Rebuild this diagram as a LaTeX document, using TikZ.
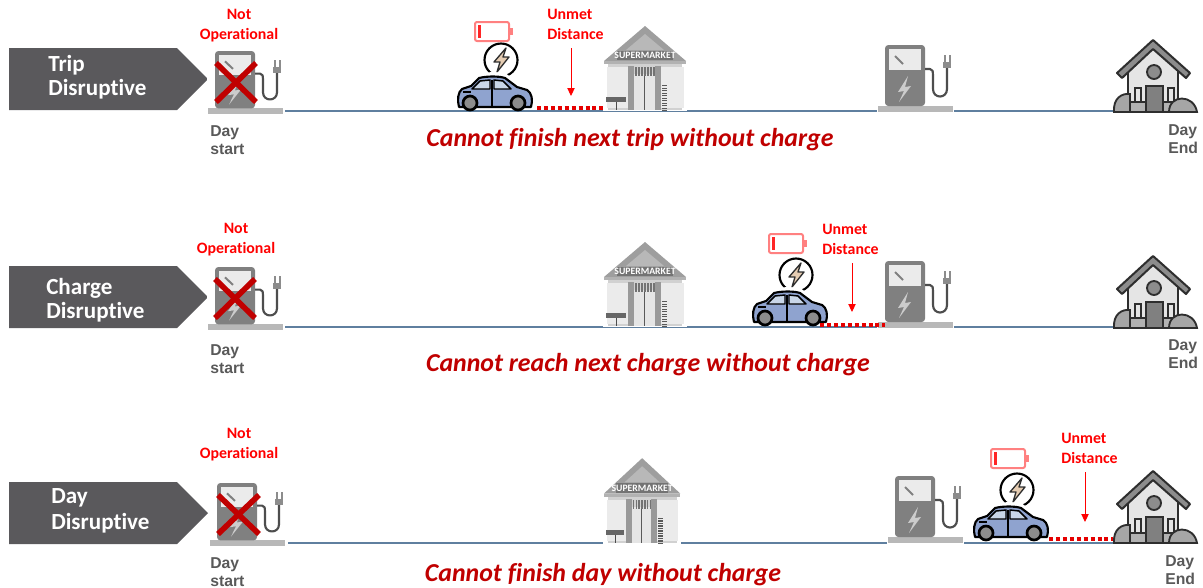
\documentclass[tikz,border=0pt]{standalone}
\usepackage{fontspec}
\setmainfont[Ligatures=NoCommon]{Carlito}
\newfontfamily\arialf{Liberation Sans}
\usetikzlibrary{arrows.meta}
\definecolor{banner}{HTML}{5A595C}
\definecolor{pumpgray}{HTML}{808080}
\definecolor{basegray}{HTML}{B8B8B8}
\definecolor{darkred}{HTML}{C00000}
\definecolor{timeline}{HTML}{5F7F9F}
\definecolor{carblue}{HTML}{8FA3CF}
\definecolor{glass}{HTML}{C9D6E8}
\definecolor{labelgray}{HTML}{595959}
\definecolor{dk}{HTML}{2E2E2E}
\tikzset{
  x=0.75pt,y=-0.75pt,
  bannerbox/.style={fill=banner,draw=none},
  bannertext/.style={text=white,font=\fontsize{17.3}{18.5}\selectfont\bfseries,anchor=west,inner sep=0},
  redlabel/.style={text=red,font=\fontsize{11.9}{15}\selectfont\bfseries,align=center,inner sep=0},
  unmetlabel/.style={text=red,font=\fontsize{11.9}{15}\selectfont\bfseries,align=left,inner sep=0,anchor=north west},
  daylabel/.style={text=labelgray,font=\arialf\fontsize{11.8}{13.5}\selectfont\bfseries,align=left,inner sep=0,anchor=north west},
  caption/.style={text=darkred,font=\fontsize{19.4}{20}\selectfont\bfseries\itshape,inner sep=0},
  tline/.style={draw=timeline,line width=0.8pt},
  unmetline/.style={draw=red!90!black,line width=3pt,dash pattern=on 3pt off 2.2pt},
  unmetarrow/.style={draw=red,line width=0.7pt,-{Triangle[length=6pt,width=5.5pt]}},
  crossline/.style={draw=darkred,line width=4.2pt},
  pump/.pic={
    \fill[white] (-1,1) rectangle (76,-70);
    \fill[basegray] (0,0) rectangle (75,-6);
    \fill[pumpgray,rounded corners=2.5pt] (7,-6) -- (7,-67) -- (47,-67) -- (47,-6) -- cycle;
    \fill[white!92!black] (11,-63) rectangle (43,-42);
    \draw[pumpgray,line width=1.5pt] (17,-56) -- (25,-48);
    \fill[white!80!black] (30,-36) -- (20,-20) -- (26,-21) -- (21,-10) -- (33,-26) -- (27,-25) -- cycle;
    \draw[dk!85!white,line width=1.6pt,line join=round] (47,-43) -- (52,-43) .. controls (55,-43) and (55,-40) .. (55,-37) -- (55,-23) .. controls (55,-13) and (69,-13) .. (69,-23) -- (69,-44);
    \fill[white!55!black] (65,-50) rectangle (73,-44);
    \fill[white!55!black] (65.5,-57) rectangle (67.5,-50);
    \fill[white!55!black] (70.5,-57) rectangle (72.5,-50);
  },
  store/.pic={
    \fill[white] (-1,1) rectangle (83,-85);
    \fill[white!82!black] (4,-49) rectangle (78,0);
    \fill[white!62!black] (0,-49) -- (41,-84) -- (82,-49) -- cycle;
    \fill[white!72!black] (41,-76) -- (22,-60) -- (60,-60) -- cycle;
    \fill[white!45!black] (13,-59) rectangle (69,-50);
    \node (sign) at (41,-54.5) [text=white,inner sep=0,font=\fontsize{7.3}{8}\selectfont\bfseries] {SUPERMARKET};
    \fill[white!70!black] (0,-49) rectangle (82,-46);
    \fill[white!92!black] (3,-43) rectangle (24,-2);
    \fill[white!92!black] (57,-43) rectangle (80,-2);
    \fill[white!60!black] (24,-44) rectangle (30,0);
    \fill[white!60!black] (51,-44) rectangle (57,0);
    \fill[white!90!black] (30,-36) rectangle (51,0);
    \draw[white!35!black,line width=0.4pt] (40.5,-36) -- (40.5,0);
    \foreach \bx in {31,34,...,49} {\fill[white!45!black] (\bx,-43) rectangle ++(1.7,9);}
    \fill[white!40!black] (2,-13) rectangle (22,-8);
    \draw[white!30!black,line width=0.5pt] (12,-8) -- (12,0);
    \foreach \by in {-25,-22.5,...,0} {\fill[white!35!black] (58,\by) rectangle ++(5,1.4);}
  },
  house/.pic={
    \fill[white] (-1,1) rectangle (84,-74);
    \fill[white!90!black,draw=dk,line width=1.3pt] (14,-43) -- (39,-66) -- (64,-43) -- (64,0) -- (14,0) -- cycle;
    \draw[dk,line width=1.5pt,fill=white!55!black,line join=round] (3,-39) -- (39,-72) -- (76,-39) -- (72,-34) -- (39,-63) -- (8,-34) -- cycle;
    \filldraw[fill=white!55!black,draw=dk,line width=1.4pt] (40,-40) circle (7);
    \filldraw[fill=white!50!black,draw=dk,line width=1.4pt] (32,0) rectangle (49,-26);
    \filldraw[fill=white!70!black,draw=dk,line width=1.4pt] (16,0) rectangle (32,-10);
    \filldraw[fill=white!70!black,draw=dk,line width=1.4pt] (49,0) rectangle (64,-10);
    \draw[dk,line width=1.3pt] (21,-10) -- (21,-24) -- (27,-24) -- (27,-10);
    \draw[dk,line width=1.3pt] (54,-10) -- (54,-24) -- (60,-24) -- (60,-10);
    \filldraw[fill=white!65!black,draw=dk,line width=1.4pt] (0,0) .. controls (-1,-14) and (8,-19) .. (16,-18) -- (16,0) -- cycle;
    \filldraw[fill=white!65!black,draw=dk,line width=1.4pt] (55,0) .. controls (55,-18) and (80,-18) .. (83,0) -- cycle;
  },
  ev/.pic={
    \draw[black,line width=1.6pt] (44,-50) circle (16.5);
    \path[fill=white!60!brown,draw=dk,line width=1pt,line join=round] (49,-62) -- (37,-48) -- (43,-48) -- (40,-38) -- (52,-53) -- (46,-53) -- cycle;
    \draw[white,line width=5pt,line join=round] (14,-25) -- (22,-33) .. controls (30,-35) and (42,-35) .. (48,-33) -- (60,-24);
    \path[fill=carblue,draw=black,line width=1.6pt,line join=round] (2,-3) .. controls (0,-10) and (1,-18) .. (5,-21) -- (14,-24) -- (22,-32) .. controls (30,-34) and (42,-34) .. (48,-32) -- (60,-23) -- (70,-20) .. controls (75,-17) and (76,-10) .. (74,-3) -- cycle;
    \path[fill=glass,draw=black,line width=1.1pt,line join=round] (15,-21) -- (23,-29) -- (33,-30) -- (33,-21) -- cycle;
    \path[fill=glass,draw=black,line width=1.1pt,line join=round] (37,-30) -- (46,-29) -- (54,-21) -- (37,-21) -- cycle;
    \draw[black,line width=1.2pt] (35,-30) -- (35,-3);
    \draw[black,line width=1pt] (6,-18) -- (14,-18);
    \filldraw[fill=white!55!black,draw=black,line width=2pt] (13,-7) circle (7);
    \filldraw[fill=white!55!black,draw=black,line width=2pt] (61,-7) circle (7);
  },
  emptybatt/.pic={
    \draw[red!50!white,line width=1.5pt,fill=white,rounded corners=1.5pt] (0,0) rectangle (34,19);
    \fill[red!50!white] (34,6) rectangle (38,13);
    \fill[red!85!white] (3,3) rectangle (6,16);
  }
}
\begin{document}
\begin{tikzpicture}
\useasboundingbox (0,0) rectangle (1203,587);
% ---------- Row 1
\coordinate (a1) at (285,111); \coordinate (b1) at (1116,111);
\draw[tline] (a1) -- (b1);
\fill[bannerbox] (9,48) -- (177,48) -- (208,79) -- (177,110) -- (9,110) -- cycle;
\node[bannertext] (t1a) at (48,65) {Trip};
\node[bannertext] (t1b) at (48,89) {Disruptive};
\node[redlabel] (n1) at (239,26) {Not\\Operational};
\pic[yscale=0.94] (p1) at (208,114) {pump};
\node[daylabel] (d1) at (210,125) {Day\\start};
\pic (s1) at (604,110) {store};
\pic (q1) at (878,112) {pump};
\pic (h1) at (1114,112) {house};
\pic (e1) at (457,110) {ev};
\pic (y1) at (475,22) {emptybatt};
\node[unmetlabel] (u1) at (547,9) {Unmet\\Distance};
\coordinate (ua1) at (571,48); \coordinate (ub1) at (571,96);
\draw[unmetarrow] (ua1) -- (ub1);
\coordinate (uc1) at (537,108); \coordinate (ud1) at (603,108);
\draw[unmetline] (uc1) -- (ud1);
\node[daylabel] (x1) at (1168,124) {Day\\End};
\node[caption] (c1) at (630,139.5) {Cannot finish next trip without charge};
\coordinate (k1a) at (216,63); \coordinate (k1b) at (256,102); \coordinate (k1c) at (256,63); \coordinate (k1d) at (216,102);
\draw[crossline] (k1a) -- (k1b); \draw[crossline] (k1c) -- (k1d);
% ---------- Row 2
\coordinate (a2) at (285,327); \coordinate (b2) at (1116,327);
\draw[tline] (a2) -- (b2);
\fill[bannerbox] (9,266) -- (177,266) -- (208,297) -- (177,328) -- (9,328) -- cycle;
\node[bannertext] (t2a) at (46,288) {Charge};
\node[bannertext] (t2b) at (46,312) {Disruptive};
\node[redlabel] (n2) at (236,240) {Not\\Operational};
\pic[yscale=0.94] (p2) at (208,330) {pump};
\node[daylabel] (d2) at (210,344) {Day\\start};
\pic (s2) at (604,326) {store};
\pic (q2) at (878,328) {pump};
\pic (h2) at (1114,328) {house};
\pic (e2) at (752,325) {ev};
\pic (y2) at (769,234) {emptybatt};
\node[unmetlabel] (u2) at (822,224) {Unmet\\Distance};
\coordinate (ua2) at (852,263); \coordinate (ub2) at (852,312);
\draw[unmetarrow] (ua2) -- (ub2);
\coordinate (uc2) at (820,325); \coordinate (ud2) at (885,325);
\draw[unmetline] (uc2) -- (ud2);
\node[daylabel] (x2) at (1168,339) {Day\\End};
\node[caption] (c2) at (648,364.5) {Cannot reach next charge without charge};
\coordinate (k2a) at (215,279); \coordinate (k2b) at (255,318); \coordinate (k2c) at (255,279); \coordinate (k2d) at (215,318);
\draw[crossline] (k2a) -- (k2b); \draw[crossline] (k2c) -- (k2d);
% ---------- Row 3
\coordinate (a3) at (288,543); \coordinate (b3) at (1116,543);
\draw[tline] (a3) -- (b3);
\fill[bannerbox] (9,482) -- (177,482) -- (208,513) -- (177,544) -- (9,544) -- cycle;
\node[bannertext] (t3a) at (51,498) {Day};
\node[bannertext] (t3b) at (51,523) {Disruptive};
\node[redlabel] (n3) at (239,445) {Not\\Operational};
\pic[yscale=0.94] (p3) at (210,546) {pump};
\node[daylabel] (d3) at (210,557) {Day\\start};
\pic[xscale=0.93,yscale=1.01] (s3) at (604,543) {store};
\pic (q3) at (888,543) {pump};
\pic (h3) at (1114,543) {house};
\pic (e3) at (973,540) {ev};
\pic (y3) at (991,449) {emptybatt};
\node[unmetlabel] (u3) at (1061,433) {Unmet\\Distance};
\coordinate (ua3) at (1085,472); \coordinate (ub3) at (1085,522);
\draw[unmetarrow] (ua3) -- (ub3);
\coordinate (uc3) at (1049,539); \coordinate (ud3) at (1113,539);
\draw[unmetline] (uc3) -- (ud3);
\node[daylabel] (x3) at (1165,555) {Day\\End};
\node[caption] (c3) at (603,574.5) {Cannot finish day without charge};
\coordinate (k3a) at (218,495); \coordinate (k3b) at (259,534); \coordinate (k3c) at (259,495); \coordinate (k3d) at (218,534);
\draw[crossline] (k3a) -- (k3b); \draw[crossline] (k3c) -- (k3d);
\end{tikzpicture}
\end{document}
